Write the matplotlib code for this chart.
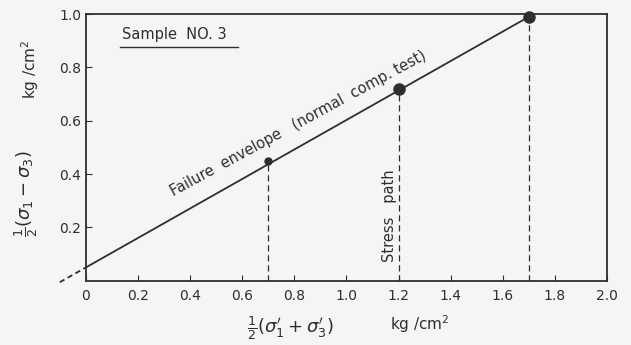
import numpy as np
import matplotlib
matplotlib.use("Agg")
import matplotlib.pyplot as plt

# failure points (p', q) in kg/cm2
p_fail = [0.7, 1.2, 1.7]
q_fail = [0.45, 0.72, 0.99]
msize = [5, 8, 8]

# failure envelope q = a + p*tan(alpha)
a_env = 0.05
slope_env = 0.553

xticks = [0, 0.2, 0.4, 0.6, 0.8, 1.0, 1.2, 1.4, 1.6, 1.8, 2.0]
xtick_labels = ["0", "0.2", "0.4", "0.6", "0.8", "1.0", "1.2", "1.4", "1.6", "1.8", "2.0"]
yticks = [0.2, 0.4, 0.6, 0.8, 1.0]
ytick_labels = ["0.2", "0.4", "0.6", "0.8", "1.0"]

ink = "#2e2e2e"
bg = "#f5f5f3"

fig = plt.figure(figsize=(6.31, 3.45), dpi=100, facecolor=bg)
ax = fig.add_axes([0.136, 0.186, 0.826, 0.773], facecolor=bg)

ax.set_xlim(0, 2.0)
ax.set_ylim(0, 1.0)

# envelope, dashed part below zero
xs = np.array([0, 1.72])
ax.plot(xs, a_env + slope_env * xs, color=ink, lw=1.3)
xd = np.array([-0.1, 0])
ax.plot(xd, a_env + slope_env * xd, color=ink, lw=1.3, ls=(0, (3, 2)), clip_on=False)

# stress paths
for p, q in zip(p_fail, q_fail):
    ax.plot([p, p], [0, q], color=ink, lw=0.9, ls=(0, (5, 3)))
for p, q, m in zip(p_fail, q_fail, msize):
    ax.plot(p, q, "o", color=ink, ms=m, clip_on=False)

ax.set_xticks(xticks)
ax.set_xticklabels(xtick_labels)
ax.set_yticks(yticks)
ax.set_yticklabels(ytick_labels)
ax.tick_params(direction="in", length=4, color=ink, labelcolor=ink, labelsize=10)
ax.tick_params(axis="x", pad=6)
for s in ax.spines.values():
    s.set_color(ink)
    s.set_linewidth(1.3)

ax.text(0.814, 0.59, "Failure  envelope   (normal  comp. test)", rotation=28.5,
        ha="center", va="center", fontsize=10.5, color=ink, rotation_mode="anchor")
ax.text(1.165, 0.245, "Stress   path", rotation=90, ha="center", va="center",
        fontsize=10.5, color=ink)

ax.text(0.14, 0.925, "Sample  NO. 3", ha="left", va="center", fontsize=10.5, color=ink)
ax.plot([0.13, 0.583], [0.876, 0.876], color=ink, lw=1.0)

fig.text(0.042, 0.44, r"$\frac{1}{2}(\sigma_1-\sigma_3)$", rotation=90, ha="center",
         va="center", fontsize=13, color=ink)
fig.text(0.048, 0.8, r"kg /cm$^2$", rotation=90, ha="center", va="center",
         fontsize=11, color=ink)
fig.text(0.46, 0.05, r"$\frac{1}{2}(\sigma_1'+\sigma_3')$", ha="center",
         va="center", fontsize=13, color=ink)
fig.text(0.665, 0.06, r"kg /cm$^2$", ha="center", va="center", fontsize=11, color=ink)

fig.savefig("out.png", dpi=100, facecolor=bg)
